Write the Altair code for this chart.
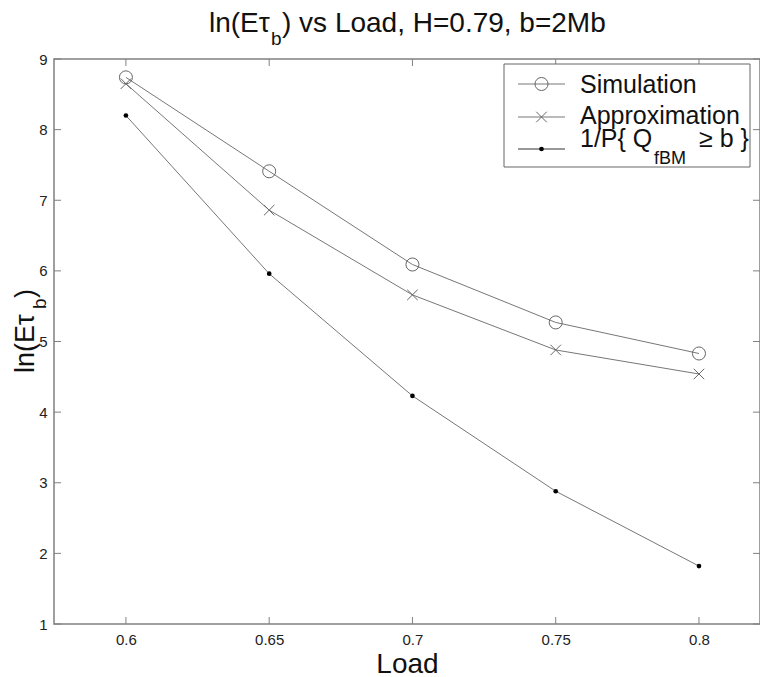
import altair as alt
import pandas as pd

# ---- data ----
loads = [0.6, 0.65, 0.7, 0.75, 0.8]
simulation = [8.74, 7.41, 6.09, 5.27, 4.83]
approximation = [8.65, 6.86, 5.66, 4.88, 4.54]
inv_prob = [8.20, 5.96, 4.23, 2.88, 1.82]
series_names = ["Simulation", "Approximation", "1/P{ Q fBM ≥ b }"]
x_ticks = [0.6, 0.65, 0.7, 0.75, 0.8]
y_ticks = [1, 2, 3, 4, 5, 6, 7, 8, 9]

W, H = 706, 565
FONT = "Liberation Sans"

rows = []
for name, vals in zip(series_names, [simulation, approximation, inv_prob]):
    for l, v in zip(loads, vals):
        rows.append({"series": name, "load": l, "value": v})
df = pd.DataFrame(rows)

xs = alt.Scale(domain=[0.5749, 0.8213], nice=False, zero=False)
ys = alt.Scale(domain=[1, 9], nice=False, zero=False)

base = alt.Chart(df)

lines = base.mark_line(strokeWidth=1, color="#777777").encode(
    x=alt.X("load:Q", scale=xs,
            axis=alt.Axis(values=x_ticks, format="~g", title="Load", titleFontSize=28,
                          titleFont=FONT, titleFontWeight="normal", titleColor="#111",
                          titlePadding=3, labelFont=FONT, labelFontSize=15,
                          labelColor="#222", labelPadding=8, ticks=False, domain=False,
                          grid=False)),
    y=alt.Y("value:Q", scale=ys,
            axis=alt.Axis(values=y_ticks, format="d", title=None, labelFont=FONT,
                          labelFontSize=15, labelColor="#222", labelPadding=7,
                          ticks=False, domain=False, grid=False)),
    detail="series:N",
)

circles = base.transform_filter(alt.datum.series == series_names[0]).mark_point(
    shape="circle", size=170, filled=False, stroke="#666666", strokeWidth=1, opacity=1
).encode(x=alt.X("load:Q", scale=xs), y=alt.Y("value:Q", scale=ys))

crosses = base.transform_filter(alt.datum.series == series_names[1]).mark_point(
    shape="M-1,-1L1,1M-1,1L1,-1", size=110, filled=False, stroke="#666666",
    strokeWidth=1, opacity=1
).encode(x=alt.X("load:Q", scale=xs), y=alt.Y("value:Q", scale=ys))

dots = base.transform_filter(alt.datum.series == series_names[2]).mark_point(
    shape="circle", size=22, filled=True, color="#000000", opacity=1
).encode(x=alt.X("load:Q", scale=xs), y=alt.Y("value:Q", scale=ys))

# inward ticks on all four sides
xt = pd.DataFrame({"v": x_ticks})
yt = pd.DataFrame({"v": y_ticks})
tick_style = dict(color="#808080", strokeWidth=1)
xt_bot = alt.Chart(xt).mark_rule(**tick_style).encode(
    x=alt.X("v:Q", scale=xs), y=alt.value(H), y2=alt.value(H - 7))
xt_top = alt.Chart(xt).mark_rule(**tick_style).encode(
    x=alt.X("v:Q", scale=xs), y=alt.value(0), y2=alt.value(7))
yt_left = alt.Chart(yt).mark_rule(**tick_style).encode(
    y=alt.Y("v:Q", scale=ys), x=alt.value(0), x2=alt.value(7))
yt_right = alt.Chart(yt).mark_rule(**tick_style).encode(
    y=alt.Y("v:Q", scale=ys), x=alt.value(W), x2=alt.value(W - 7))

# legend
one = pd.DataFrame({"a": [0]})
leg_box = alt.Chart(one).mark_rect(fill="white", stroke="#666666", strokeWidth=1).encode(
    x=alt.value(450), x2=alt.value(696), y=alt.value(5), y2=alt.value(108))

leg_df = pd.DataFrame({"series": series_names, "ly": [25, 58, 90]})
leg_lines = alt.Chart(leg_df).mark_rule(strokeWidth=1).encode(
    y=alt.Y("ly:Q", scale=None), x=alt.value(464), x2=alt.value(511),
    color=alt.Color("series:N", scale=alt.Scale(domain=series_names,
                                                range=["#777777", "#777777", "#333333"]),
                    legend=None))
leg_c = alt.Chart(leg_df.iloc[[0]]).mark_point(
    shape="circle", size=170, filled=False, stroke="#666666", strokeWidth=1, opacity=1
).encode(y=alt.Y("ly:Q", scale=None), x=alt.value(487.5))
leg_x = alt.Chart(leg_df.iloc[[1]]).mark_point(
    shape="M-1,-1L1,1M-1,1L1,-1", size=110, filled=False, stroke="#666666",
    strokeWidth=1, opacity=1
).encode(y=alt.Y("ly:Q", scale=None), x=alt.value(487.5))
leg_d = alt.Chart(leg_df.iloc[[2]]).mark_point(
    shape="circle", size=22, filled=True, color="#000000", opacity=1
).encode(y=alt.Y("ly:Q", scale=None), x=alt.value(487.5))

# text pieces (with subscripts) for title, y-axis title and legend labels
texts = pd.DataFrame([
    {"t": "ln(Eτ", "px": 155, "py": -27, "fs": 28, "ang": 0},
    {"t": "b", "px": 217, "py": -14, "fs": 19, "ang": 0},
    {"t": ") vs Load, H=0.79, b=2Mb", "px": 228, "py": -27, "fs": 28, "ang": 0},
    {"t": "ln(Eτ", "px": -20, "py": 314, "fs": 27, "ang": 270},
    {"t": "b", "px": -8, "py": 250, "fs": 19, "ang": 270},
    {"t": ")", "px": -20, "py": 239, "fs": 27, "ang": 270},
    {"t": "Simulation", "px": 526, "py": 34, "fs": 25, "ang": 0},
    {"t": "Approximation", "px": 526, "py": 65, "fs": 25, "ang": 0},
    {"t": "1/P{ Q", "px": 526, "py": 88, "fs": 25, "ang": 0},
    {"t": "fBM", "px": 600, "py": 105, "fs": 18, "ang": 0},
    {"t": "≥ b }", "px": 645, "py": 88, "fs": 25, "ang": 0},
])
text_layer = alt.Chart(texts).mark_text(
    align="left", baseline="alphabetic", font=FONT, color="#111111"
).encode(
    x=alt.X("px:Q", scale=None), y=alt.Y("py:Q", scale=None),
    text="t:N", size=alt.Size("fs:Q", scale=None, legend=None),
    angle=alt.Angle("ang:Q", scale=None),
)

chart = alt.layer(
    lines, circles, crosses, dots, xt_bot, xt_top, yt_left, yt_right,
    leg_box, leg_lines, leg_c, leg_x, leg_d, text_layer
).properties(
    width=W, height=H,
    autosize=alt.AutoSizeParams(type="none"),
    padding={"left": 54, "top": 59, "right": 0, "bottom": 53},
    background="white",
).configure_view(stroke="#808080", strokeWidth=1.5)

chart.save("out.html", embed_options={"renderer": "svg", "actions": False})
